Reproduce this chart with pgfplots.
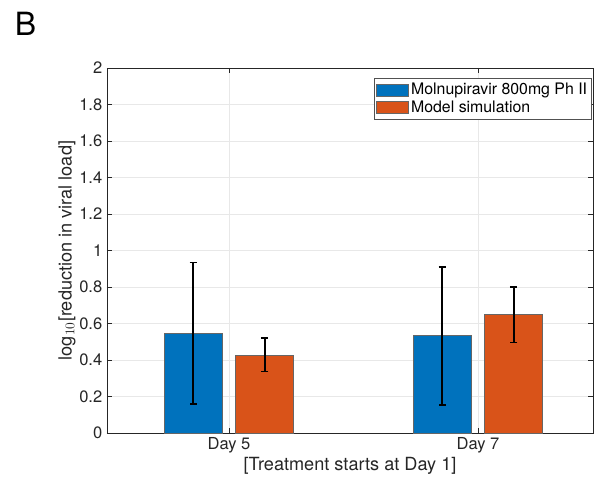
\documentclass[border=0pt]{standalone}
\usepackage{fontspec}
\setmainfont{TeX Gyre Heros}
\usepackage{pgfplots}
\pgfplotsset{compat=1.18}
\definecolor{mblue}{RGB}{0,114,189}
\definecolor{morange}{RGB}{217,83,25}
\definecolor{axgray}{RGB}{38,38,38}

\begin{document}
\begin{tikzpicture}
\useasboundingbox (-80.25pt,-42pt) rectangle (372pt,324.75pt);
\begin{axis}[
    scale only axis,
    width=364.5pt, height=273.75pt,
    ybar, bar width=43.5pt,
    xmin=0.51, xmax=2.462,
    ymin=0, ymax=2,
    xtick={1,2}, xticklabels={Day 5, Day 7},
    ytick={0,0.2,...,2},
    yticklabel style={/pgf/number format/fixed},
    /pgf/number format/assume math mode=true,
    tick label style={font=\fontsize{12.4}{14}\selectfont, text=axgray},
    label style={font=\fontsize{13.6}{16}\selectfont, text=axgray},
    xlabel={[Treatment starts at Day 1]},
    ylabel={log$_{10}$[reduction in viral load]},
    xlabel style={yshift=4pt},
    ylabel style={yshift=-4pt},
    grid=major,
    major grid style={gray!18, line width=0.5pt},
    axis line style={axgray, line width=0.5pt},
    tick style={axgray, line width=0.5pt},
    tick align=inside,
    major tick length=3.5pt,
    legend style={at={(0.998,0.972)}, anchor=north east, draw=axgray!80,
        line width=0.4pt, font=\fontsize{11.9}{13.5}\selectfont,
        inner sep=1.5pt, row sep=-1pt, cells={anchor=west}},
    legend image code/.code={
        \draw[#1, draw=black!60, line width=0.3pt] (0pt,-4.5pt) rectangle (24pt,4.5pt);
    },
    error bars/y dir=both,
    error bars/y explicit,
    error bars/error bar style={black, line width=1.3pt},
    error bars/error mark options={rotate=90, mark size=2.8pt, line width=1.3pt, black},
]
\addplot[bar shift=-26.8pt, fill=mblue, draw=black!60, line width=0.4pt]
coordinates {
    (1,0.547) += (0,0.387) -= (0,0.390)
    (2,0.533) += (0,0.376) -= (0,0.378)
};
\addlegendentry{Molnupiravir 800mg Ph II}
\addplot[bar shift=26.8pt, fill=morange, draw=black!60, line width=0.4pt]
coordinates {
    (1,0.424) += (0,0.098) -= (0,0.087)
    (2,0.648) += (0,0.154) -= (0,0.152)
};
\addlegendentry{Model simulation}
\end{axis}
\node[font=\fontsize{24}{28}\selectfont] at (-61pt,306.75pt) {B};
\end{tikzpicture}
\end{document}
